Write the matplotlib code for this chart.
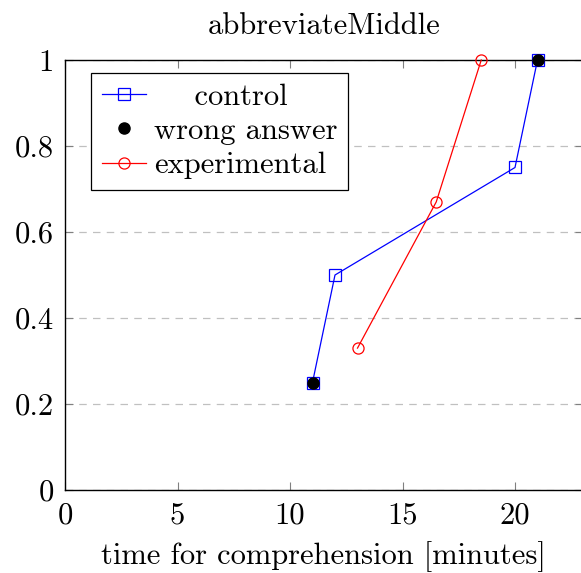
import matplotlib
matplotlib.use("Agg")
import matplotlib.pyplot as plt

plt.rcParams['font.family'] = ['cmr10', 'DejaVu Serif']
plt.rcParams['mathtext.fontset'] = 'cm'
plt.rcParams['axes.formatter.use_mathtext'] = True

# time to answer [minutes] vs. cumulative fraction of participants
control_x = [11, 12, 20, 21]
control_y = [0.25, 0.5, 0.75, 1.0]
wrong_x = [11, 21]
wrong_y = [0.25, 1.0]
exp_x = [13, 16.5, 18.5]
exp_y = [0.33, 0.67, 1.0]

xticks = [0, 5, 10, 15, 20]
yticks = [0, 0.2, 0.4, 0.6, 0.8, 1]
ytick_labels = ['0', '0.2', '0.4', '0.6', '0.8', '1']

fs = 22

fig = plt.figure(figsize=(5.81, 5.73), dpi=100)
ax = fig.add_axes([65 / 581, 83 / 573, 517.5 / 581, 430 / 573])

# leading spaces roughly centre the shorter labels in the legend
ax.plot(control_x, control_y, color='blue', lw=0.9, marker='s', ms=8,
        mfc='none', mec='blue', mew=0.9, label='    control', zorder=3,
        clip_on=False)
ax.plot(wrong_x, wrong_y, ls='none', marker='o', ms=8, color='black',
        label='wrong answer', zorder=4, clip_on=False)
ax.plot(exp_x, exp_y, color='red', lw=0.9, marker='o', ms=8,
        mfc='none', mec='red', mew=0.9, label='experimental', zorder=3,
        clip_on=False)

ax.set_xlim(0, 23)
ax.set_ylim(0, 1)
ax.set_xticks(xticks)
ax.set_xticklabels([str(t) for t in xticks])
ax.set_yticks(yticks)
ax.set_yticklabels(ytick_labels)

ax.yaxis.grid(True, color='#c0c0c0', lw=0.9, ls=(0, (6, 5)))
ax.set_axisbelow(True)

ax.tick_params(direction='in', length=6, width=0.8, color='#808080',
               labelsize=fs, top=True, right=True)
ax.tick_params(axis='y', pad=8)
ax.tick_params(axis='x', pad=9)
for sp in ax.spines.values():
    sp.set_linewidth(1.0)
    sp.set_color('black')

ax.set_title('abbreviateMiddle', fontsize=fs, pad=19)
ax.set_xlabel('time for comprehension [minutes]', fontsize=fs, labelpad=8)

leg = ax.legend(loc='upper left', bbox_to_anchor=(0.05, 0.97), fontsize=fs,
                fancybox=False, framealpha=1, edgecolor='black',
                borderpad=0.35, labelspacing=0.22, handlelength=1.47,
                handletextpad=0.25, borderaxespad=0)
leg.get_frame().set_linewidth(0.9)

fig.savefig('out.png', dpi=100)
